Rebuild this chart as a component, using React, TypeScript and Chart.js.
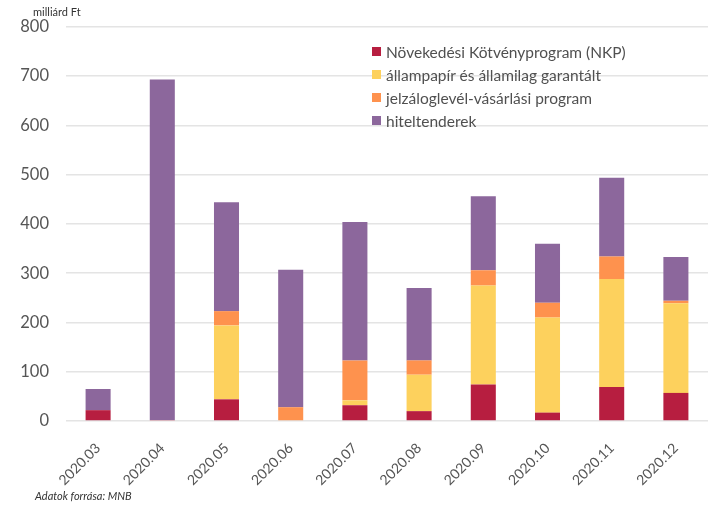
import React, { useEffect, useRef } from "react";
import { Chart, registerables } from "chart.js";

Chart.register(...registerables);

const categories = ["2020.03", "2020.04", "2020.05", "2020.06", "2020.07", "2020.08", "2020.09", "2020.10", "2020.11", "2020.12"];
const nkp = [22, 2, 44, 0, 32, 20, 74, 17, 69, 57];
const allampapir = [0, 0, 150, 0, 10, 74, 201, 193, 219, 182];
const jelzalog = [0, 0, 29, 28, 81, 29, 31, 30, 46, 5];
const hitel = [43, 691, 221, 279, 281, 147, 150, 120, 160, 89];
const yTicks = [0, 100, 200, 300, 400, 500, 600, 700, 800];

const seriesNames = [
  "Növekedési Kötvényprogram (NKP)",
  "állampapír és államilag garantált",
  "jelzáloglevél-vásárlási program",
  "hiteltenderek",
];
const colors = ["#B71E40", "#FDD15D", "#FE924E", "#8C679C"];

const FONT = "Lato, 'Open Sans', sans-serif";

export default function App() {
  const ref = useRef<HTMLCanvasElement | null>(null);
  useEffect(() => {
    if (!ref.current) return;
    const data = [nkp, allampapir, jelzalog, hitel];
    const chart = new Chart(ref.current, {
      type: "bar",
      data: {
        labels: categories,
        datasets: data.map((d, i) => ({
          label: seriesNames[i],
          data: d,
          backgroundColor: colors[i],
          borderWidth: 0,
          barPercentage: 0.39,
          categoryPercentage: 1,
        })),
      },
      options: {
        animation: false,
        responsive: false,
        maintainAspectRatio: false,
        layout: { padding: { top: 24, right: 1, bottom: 0, left: 0 } },
        plugins: {
          legend: { display: false },
          tooltip: { enabled: false },
        },
        scales: {
          x: {
            stacked: true,
            grid: { display: false, drawTicks: false },
            border: { display: false },
            ticks: {
              maxRotation: 45,
              minRotation: 45,
              padding: 19,
              color: "#555555",
              font: { family: FONT, size: 14 },
            },
            afterFit: (s: any) => {
              s.height = 85;
            },
          },
          y: {
            stacked: true,
            min: 0,
            max: 800,
            afterBuildTicks: (s: any) => {
              s.ticks = yTicks.map((v) => ({ value: v }));
            },
            grid: { color: "#E4E4E4", lineWidth: 1.5, drawTicks: false },
            border: { display: false },
            ticks: {
              padding: 17,
              color: "#555555",
              font: { family: FONT, size: 16.5 },
            },
            afterFit: (s: any) => {
              s.width = 66;
            },
          },
        },
      },
    });
    return () => chart.destroy();
  }, []);

  return (
    <div style={{ position: "fixed", left: 0, top: 0, width: 709, height: 506, background: "#fff", fontFamily: FONT }}>
      <canvas ref={ref} width={709} height={506} style={{ position: "absolute", left: 0, top: 0 }} />
      <div style={{ position: "absolute", left: 33, top: 5, fontSize: 11, color: "#333" }}>milliárd Ft</div>
      <div style={{ position: "absolute", left: 372, top: 40 }}>
        {seriesNames.map((n, i) => (
          <div key={n} style={{ display: "flex", alignItems: "center", height: 23, fontSize: 15.5, color: "#505050", whiteSpace: "nowrap" }}>
            <span style={{ display: "inline-block", width: 9, height: 9, background: colors[i], marginRight: 5 }} />
            <span>{n}</span>
          </div>
        ))}
      </div>
      <div style={{ position: "absolute", left: 35, top: 489, fontSize: 11, fontStyle: "italic", color: "#333" }}>
        Adatok forrása: MNB
      </div>
    </div>
  );
}
